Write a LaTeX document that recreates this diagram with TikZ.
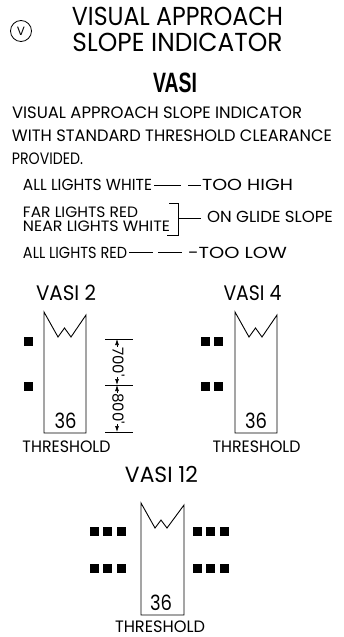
\documentclass[tikz,border=0pt]{standalone}
\usepackage{fontspec}
\usepackage{graphicx}
\setmainfont{Poppins}
\newfontfamily\ff{Poppins}
\newfontfamily\ffb{Liberation Sans}
\usetikzlibrary{arrows.meta}
\newcommand{\fz}[1]{\fontsize{#1}{#1}\selectfont}
\newcommand{\fw}[2]{\resizebox{#1pt}{\height}{#2}}
\begin{document}
\begin{tikzpicture}[x=1pt,y=-1pt,
  txt/.style={inner sep=0pt, outer sep=0pt, anchor=base},
  txtl/.style={inner sep=0pt, outer sep=0pt, anchor=base west},
  rw/.style={draw=black, line width=0.9pt, line join=miter},
  lamp/.style={fill=black, minimum width=9pt, minimum height=9pt, inner sep=0pt, outer sep=0pt},
  conn/.style={line width=0.9pt},
  dim/.style={line width=0.7pt},
  dimarr/.style={line width=0.7pt, {Latex[length=6pt,width=4pt]}-{Latex[length=6pt,width=4pt]}}]
\useasboundingbox (0,0) rectangle (344,637);
% title
\node[circle, draw, line width=0.8pt, minimum size=21pt, inner sep=0pt] (cv) at (21,31) {\ff\fz{12}V};
\node[txt] (t1) at (177.5,26) {\ff\fz{26}\fw{211}{VISUAL APPROACH}};
\node[txt] (t2) at (177.5,51) {\ff\fz{26}\fw{210}{SLOPE INDICATOR}};
\node[txt] (t3) at (175,92) {\ffb\bfseries\fz{28}\fw{44}{VASI}};
% paragraph
\node[txtl] (p1) at (12,118.5) {\ff\fz{16.5}\fw{290}{VISUAL APPROACH SLOPE INDICATOR}};
\node[txtl] (p2) at (12,141.5) {\ff\fz{16.5}\fw{320}{WITH STANDARD THRESHOLD CLEARANCE}};
\node[txtl] (p3) at (12,164.5) {\ff\fz{16.5}\fw{71}{PROVIDED.}};
% legend
\node[txtl] (a1) at (23,190.5) {\ff\fz{16}\fw{129}{ALL LIGHTS WHITE}};
\coordinate (d1a) at (154,185); \coordinate (d1b) at (181,185);
\coordinate (d2a) at (188,185); \coordinate (d2b) at (201,185);
\draw[conn] (d1a) -- (d1b); \draw[conn] (d2a) -- (d2b);
\node[txtl] (a2) at (202,190.5) {\ff\fz{16}\fw{91}{TOO HIGH}};
\node[txtl] (b1) at (23,217) {\ff\fz{15}\fw{115}{FAR LIGHTS RED}};
\node[txtl] (b2) at (23,231) {\ff\fz{15}\fw{147}{NEAR LIGHTS WHITE}};
\coordinate (br1) at (169,203); \coordinate (br2) at (178,203);
\coordinate (br3) at (178,235); \coordinate (br4) at (167,235);
\draw[conn] (br1) -- (br2) -- (br3) -- (br4);
\coordinate (bm) at (178,218); \coordinate (be) at (201,218);
\draw[conn] (bm) -- (be);
\node[txtl] (b3) at (207,222.5) {\ff\fz{16}\fw{126}{ON GLIDE SLOPE}};
\node[txtl] (c1) at (23,258) {\ff\fz{16}\fw{104}{ALL LIGHTS RED}};
\coordinate (e1a) at (129,252.5); \coordinate (e1b) at (153,252.5);
\coordinate (e2a) at (158,252.5); \coordinate (e2b) at (182,252.5);
\draw[conn] (e1a) -- (e1b); \draw[conn] (e2a) -- (e2b);
\node[txtl] (c2) at (188,258) {\ff\fz{16}\fw{99}{-TOO LOW}};
% VASI 2
\node[txt] (v2) at (66,300.5) {\ff\fz{21}\fw{60}{VASI 2}};
\draw[rw] (44,312) -- (58,337) -- (64.5,328) -- (71,337) -- (86,315) -- (86,433) -- (44,433) -- cycle;
\node[txt] (n2) at (65.5,428) {\ff\fz{21}\fw{22}{36}};
\node[txt] (th2) at (66.5,452.5) {\ff\fz{16.5}\fw{88}{THRESHOLD}};
\node[lamp] (l2a) at (28,341) {};
\node[lamp] (l2b) at (28,386) {};
% dimension
\coordinate (k1a) at (105,339); \coordinate (k1b) at (133,339);
\coordinate (k2a) at (105,385); \coordinate (k2b) at (133,385);
\coordinate (k3a) at (105,432); \coordinate (k3b) at (133,432);
\draw[dim] (k1a) -- (k1b); \draw[dim] (k2a) -- (k2b); \draw[dim] (k3a) -- (k3b);
\coordinate (m1) at (117,339); \coordinate (m2) at (117,385); \coordinate (m3) at (117,432);
\draw[dimarr] (m1) -- (m2);
\draw[dimarr] (m2) -- (m3);
\node[fill=white, inner sep=0.3pt, rotate=-90] (d700) at (118.5,362) {\ff\fz{15}700'};
\node[fill=white, inner sep=0.3pt, rotate=-90] (d800) at (118.5,408.5) {\ff\fz{15}800'};
% VASI 4
\node[txt] (v4) at (252.5,300.5) {\ff\fz{21}\fw{58}{VASI 4}};
\draw[rw] (235,312) -- (249,337) -- (255.5,328) -- (262,337) -- (277,315) -- (277,433) -- (235,433) -- cycle;
\node[txt] (n4) at (256,428) {\ff\fz{21}\fw{22}{36}};
\node[txt] (th4) at (256.5,452.5) {\ff\fz{16.5}\fw{88}{THRESHOLD}};
\node[lamp] (l4a) at (205,341) {};
\node[lamp] (l4b) at (218,341) {};
\node[lamp] (l4c) at (205,386) {};
\node[lamp] (l4d) at (218,386) {};
% VASI 12
\node[txt] (v12) at (161.5,482) {\ff\fz{22}\fw{73}{VASI 12}};
\draw[rw] (141,503) -- (155,528) -- (161,520) -- (167,528) -- (184,505) -- (184,615) -- (141,615) -- cycle;
\node[txt] (n12) at (161,610) {\ff\fz{21}\fw{22}{36}};
\node[txt] (th12) at (160,632) {\ff\fz{16.5}\fw{90}{THRESHOLD}};
\foreach \xx/\nm in {94/a,107.5/b,121/c,197/d,210.5/e,224/f}{
  \node[lamp] (l12\nm1) at (\xx,531) {};
  \node[lamp] (l12\nm2) at (\xx,568) {};
}
\end{tikzpicture}
\end{document}
